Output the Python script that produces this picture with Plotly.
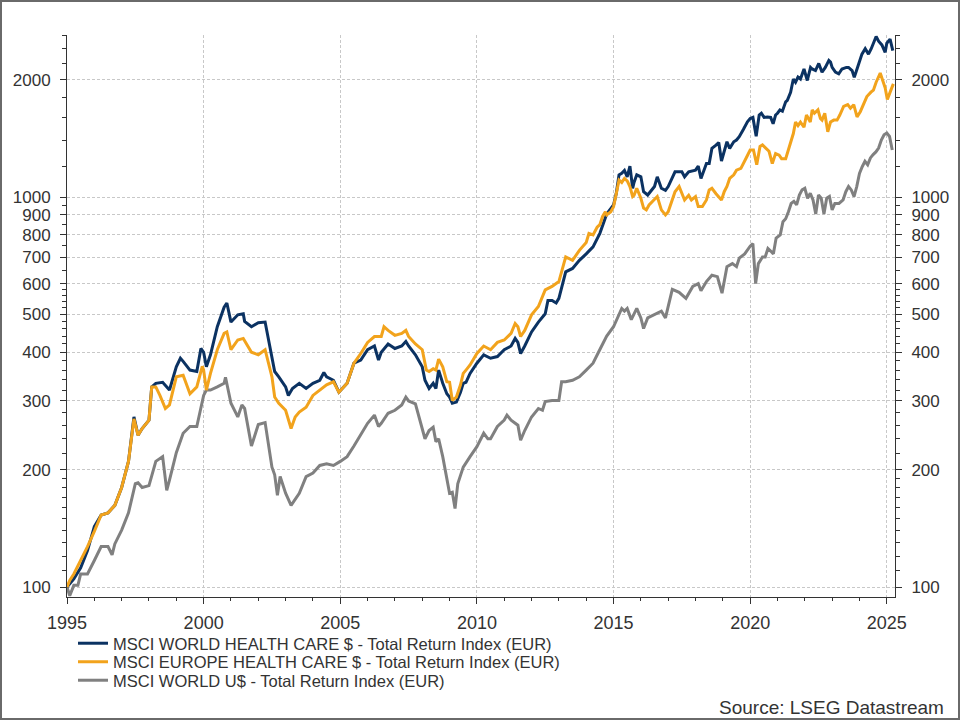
import plotly.graph_objects as go
import math

# ---- data (decimal years, index values) ----
world_hc_t = [1995.0,1995.1,1995.25,1995.5,1995.75,1996.0,1996.25,1996.5,1996.75,1997.0,1997.25,1997.45,1997.6,1997.75,1998.0,1998.1,1998.25,1998.5,1998.75,1999.0,1999.15,1999.25,1999.5,1999.75,1999.9,2000.0,2000.1,2000.25,2000.5,2000.75,2000.85,2001.0,2001.25,2001.45,2001.5,2001.75,2002.0,2002.25,2002.5,2002.6,2002.75,2003.0,2003.1,2003.25,2003.5,2003.75,2004.0,2004.25,2004.4,2004.5,2004.75,2004.95,2005.25,2005.5,2005.75,2006.0,2006.25,2006.4,2006.5,2006.75,2007.0,2007.25,2007.4,2007.5,2007.75,2008.0,2008.1,2008.25,2008.4,2008.5,2008.6,2008.75,2008.9,2009.0,2009.1,2009.25,2009.4,2009.5,2009.6,2009.75,2010.0,2010.25,2010.5,2010.75,2011.0,2011.25,2011.4,2011.5,2011.6,2011.75,2012.0,2012.25,2012.5,2012.6,2012.75,2012.9,2013.0,2013.1,2013.25,2013.5,2013.75,2014.0,2014.25,2014.5,2014.75,2015.0,2015.1,2015.2,2015.3,2015.4,2015.5,2015.6,2015.7,2015.75,2015.85,2016.0,2016.1,2016.25,2016.5,2016.6,2016.75,2016.9,2017.0,2017.25,2017.5,2017.6,2017.75,2018.0,2018.1,2018.2,2018.4,2018.5,2018.6,2018.75,2018.85,2018.95,2019.05,2019.15,2019.25,2019.4,2019.5,2019.6,2019.75,2019.9,2020.0,2020.1,2020.22,2020.33,2020.41,2020.51,2020.63,2020.75,2020.84,2020.93,2021.0,2021.09,2021.18,2021.3,2021.36,2021.48,2021.58,2021.66,2021.75,2021.84,2021.97,2022.09,2022.21,2022.27,2022.39,2022.51,2022.63,2022.75,2022.88,2022.94,2023.0,2023.12,2023.24,2023.36,2023.52,2023.6,2023.73,2023.81,2023.91,2024.0,2024.09,2024.21,2024.33,2024.43,2024.51,2024.61,2024.7,2024.82,2024.94,2025.0,2025.12,2025.22]
world_hc_v = [100,102,105,112,124,143,153,155,162,180,210,273,245,255,268,326,333,335,320,367,386,379,360,357,409,400,367,394,465,522,535,478,499,502,480,465,476,478,389,357,346,326,310,323,333,323,333,339,355,346,339,316,333,375,382,406,415,382,400,420,409,415,426,415,394,367,339,323,333,323,360,333,313,307,296,298,316,333,335,353,375,394,386,390,406,415,434,424,397,415,451,478,502,543,543,535,550,590,643,656,688,715,745,807,905,954,1022,1140,1150,1170,1127,1200,1053,1090,1140,1127,1032,1012,1064,1127,1053,1040,1064,1161,1161,1127,1161,1172,1200,1116,1219,1219,1333,1359,1380,1237,1300,1386,1333,1386,1400,1428,1490,1560,1590,1600,1432,1623,1640,1600,1605,1600,1541,1623,1640,1673,1660,1754,1770,1857,2007,1970,2030,2007,2130,1990,2150,2130,2110,2200,2090,2150,2240,2220,2150,2090,2070,2130,2150,2150,2110,2027,2130,2240,2325,2400,2325,2400,2480,2580,2510,2455,2350,2480,2540,2375]

europe_hc_t = [1995.0,1995.1,1995.25,1995.5,1995.75,1996.0,1996.25,1996.5,1996.75,1997.0,1997.25,1997.45,1997.6,1997.75,1998.0,1998.1,1998.25,1998.4,1998.6,1998.75,1999.0,1999.25,1999.5,1999.75,1999.95,2000.0,2000.1,2000.25,2000.5,2000.75,2000.85,2001.0,2001.25,2001.45,2001.75,2002.0,2002.25,2002.5,2002.6,2002.75,2003.0,2003.2,2003.35,2003.5,2003.75,2004.0,2004.25,2004.5,2004.75,2004.95,2005.25,2005.5,2005.75,2006.0,2006.25,2006.5,2006.6,2006.75,2007.0,2007.25,2007.4,2007.5,2007.75,2008.0,2008.15,2008.25,2008.4,2008.5,2008.6,2008.75,2008.9,2009.0,2009.1,2009.25,2009.4,2009.5,2009.6,2009.75,2010.0,2010.25,2010.5,2010.75,2011.0,2011.25,2011.4,2011.5,2011.6,2011.75,2012.0,2012.25,2012.5,2012.75,2013.0,2013.1,2013.25,2013.5,2013.75,2014.0,2014.1,2014.25,2014.4,2014.5,2014.6,2014.7,2014.75,2014.9,2015.0,2015.1,2015.2,2015.3,2015.4,2015.5,2015.6,2015.7,2015.75,2015.85,2016.0,2016.1,2016.2,2016.3,2016.5,2016.6,2016.75,2016.9,2017.0,2017.25,2017.4,2017.5,2017.6,2017.75,2017.85,2018.0,2018.1,2018.25,2018.4,2018.5,2018.6,2018.75,2018.85,2018.95,2019.05,2019.15,2019.25,2019.4,2019.5,2019.66,2019.84,2020.0,2020.12,2020.24,2020.36,2020.45,2020.57,2020.69,2020.81,2020.93,2021.06,2021.15,2021.3,2021.48,2021.58,2021.66,2021.75,2021.84,2021.97,2022.06,2022.2,2022.27,2022.35,2022.48,2022.57,2022.63,2022.73,2022.84,2022.94,2023.06,2023.18,2023.28,2023.42,2023.57,2023.67,2023.79,2023.91,2024.03,2024.15,2024.27,2024.42,2024.51,2024.61,2024.76,2024.94,2025.02,2025.15,2025.24]
europe_hc_v = [100,104,108,117,127,139,153,155,162,180,210,270,245,255,268,326,326,310,287,293,346,349,313,326,368,360,320,353,406,447,451,406,430,434,400,394,406,346,307,296,284,255,273,281,289,310,320,330,336,316,333,375,397,424,439,439,465,455,442,447,455,439,420,406,360,357,363,360,384,367,336,335,301,307,330,353,360,371,397,415,406,424,430,447,474,465,439,455,499,524,578,590,607,643,702,688,730,765,807,800,837,850,892,917,900,917,945,1020,1105,1090,1116,1100,1064,1003,1010,1053,993,937,927,954,983,1003,927,900,917,1032,1064,1020,983,1010,983,1003,945,945,983,1043,1053,1020,1003,983,1032,1064,1116,1140,1172,1184,1254,1320,1320,1210,1348,1360,1335,1310,1219,1293,1280,1254,1254,1375,1455,1557,1525,1557,1510,1623,1557,1673,1640,1673,1590,1575,1640,1470,1557,1575,1575,1623,1707,1725,1690,1725,1605,1655,1725,1810,1857,1880,1970,2080,1906,1778,1880,1950,1840]

world_t = [1995.0,1995.1,1995.25,1995.4,1995.5,1995.75,1996.0,1996.25,1996.5,1996.65,1996.75,1997.0,1997.25,1997.5,1997.6,1997.75,1998.0,1998.25,1998.5,1998.65,1998.75,1999.0,1999.25,1999.5,1999.75,2000.0,2000.1,2000.25,2000.5,2000.75,2000.8,2001.0,2001.25,2001.4,2001.5,2001.75,2002.0,2002.25,2002.5,2002.6,2002.7,2002.8,2003.0,2003.2,2003.5,2003.75,2004.0,2004.25,2004.5,2004.75,2005.0,2005.25,2005.5,2005.75,2006.0,2006.25,2006.4,2006.5,2006.75,2007.0,2007.25,2007.4,2007.5,2007.75,2008.0,2008.1,2008.25,2008.4,2008.5,2008.6,2008.75,2008.85,2009.0,2009.1,2009.2,2009.3,2009.5,2009.75,2010.0,2010.25,2010.4,2010.5,2010.75,2011.0,2011.1,2011.25,2011.5,2011.6,2011.75,2012.0,2012.25,2012.4,2012.5,2012.75,2013.0,2013.1,2013.25,2013.5,2013.75,2014.0,2014.25,2014.45,2014.75,2015.0,2015.15,2015.3,2015.4,2015.5,2015.65,2015.85,2016.0,2016.1,2016.25,2016.5,2016.75,2016.9,2017.15,2017.4,2017.65,2017.9,2018.1,2018.2,2018.4,2018.6,2018.8,2018.97,2019.15,2019.35,2019.5,2019.6,2019.8,2020.0,2020.1,2020.15,2020.2,2020.3,2020.45,2020.55,2020.65,2020.75,2020.85,2020.95,2021.1,2021.2,2021.3,2021.4,2021.5,2021.6,2021.7,2021.8,2021.9,2022.0,2022.1,2022.2,2022.3,2022.4,2022.5,2022.6,2022.7,2022.8,2022.9,2023.0,2023.1,2023.25,2023.4,2023.5,2023.6,2023.7,2023.8,2023.9,2024.0,2024.1,2024.2,2024.3,2024.4,2024.5,2024.6,2024.7,2024.8,2024.9,2025.0,2025.1,2025.2]
world_v = [100,95,101,101,108,108,117,127,127,121,129,140,155,184,185,180,182,210,216,177,188,221,248,258,258,310,320,320,326,333,345,296,273,293,287,230,261,264,203,194,172,192,174,162,174,192,196,205,207,205,210,216,230,245,263,276,258,263,279,284,293,307,300,295,252,240,252,257,236,240,216,196,174,175,159,184,203,216,229,248,240,240,258,268,276,268,260,238,252,273,287,284,299,301,301,336,336,339,346,360,375,400,440,465,493,518,510,518,485,518,490,460,490,500,510,490,580,570,550,590,600,575,607,630,625,567,663,675,663,697,715,748,760,675,600,675,702,702,738,727,715,785,800,864,880,917,963,975,955,1012,1043,1053,993,1022,983,905,1012,993,905,993,1003,927,963,963,983,1032,1064,1043,1003,1064,1150,1196,1235,1210,1260,1285,1305,1335,1400,1444,1460,1430,1320]

series_names = ["MSCI WORLD HEALTH CARE $ - Total Return Index (EUR)",
                "MSCI EUROPE HEALTH CARE $ - Total Return Index (EUR)",
                "MSCI WORLD U$ - Total Return Index (EUR)"]
series_colors = ["#0b3262", "#f2a31c", "#808080"]

x_major = [1995, 2000, 2005, 2010, 2015, 2020, 2025]
x_minor = list(range(1995, 2026))
y_major = [100, 200, 300, 400, 500, 600, 700, 800, 900, 1000, 2000]
y_minor = (list(range(110, 200, 10)) + list(range(220, 600, 20)) + [650, 750, 850, 950]
           + [1200, 1400, 1600, 1800, 2200, 2400, 2600])

# ---- layout geometry ----
W, H = 960, 720
ML, MR, MT, MB = 67, 65, 35, 123
PW, PH = W - ML - MR, H - MT - MB
def px(x):
    return (x - ML) / PW
def py(y):
    return (H - MB - y) / PH

x_range = [1995, 2025.3]
y_range = [math.log10(94.3), math.log10(2603)]
font_fam = "Arial, Liberation Sans, sans-serif"
legend_rows = [643.5, 662, 680.5]
legend_ids = ["legend", "legend2", "legend3"]

fig = go.Figure()
order = [(world_t, world_v, 2), (world_hc_t, world_hc_v, 0), (europe_hc_t, europe_hc_v, 1)]
for t, v, i in order:
    fig.add_trace(go.Scatter(x=t, y=v, mode="lines", name=series_names[i],
                             line=dict(color=series_colors[i], width=3),
                             legend=legend_ids[i], hoverinfo="skip"))

grid = dict(showgrid=True, gridcolor="#c8c8c8", gridwidth=1, griddash="3px,2px")
yax = dict(type="log", range=y_range, tickvals=y_major, ticktext=[str(v) for v in y_major],
           ticks="outside", ticklen=6, tickcolor="#333", showline=True, linecolor="#333",
           linewidth=1, zeroline=False, ticklabelstandoff=6,
           tickfont=dict(family=font_fam, size=17, color="#333"),
           minor=dict(tickmode="array", tickvals=y_minor, ticks="outside", ticklen=4,
                      tickcolor="#333", showgrid=False))

legend_cfg = {}
for k, lid in enumerate(legend_ids):
    legend_cfg[lid] = dict(x=px(73), y=py(legend_rows[k]), xanchor="left", yanchor="middle",
                           font=dict(family=font_fam, size=16.5, color="#333"),
                           bgcolor="rgba(0,0,0,0)", borderwidth=0, itemwidth=30)

fig.update_layout(
    width=W, height=H,
    margin=dict(l=ML, r=MR, t=MT, b=MB, autoexpand=False),
    paper_bgcolor="white", plot_bgcolor="white",
    xaxis=dict(range=x_range, tickvals=x_major, ticktext=[str(v) for v in x_major],
               ticks="outside", ticklen=6, tickcolor="#333", showline=True,
               linecolor="#333", linewidth=1, zeroline=False, ticklabelstandoff=3,
               tickfont=dict(family=font_fam, size=18, color="#333"),
               minor=dict(tickmode="array", tickvals=x_minor, ticks="outside", ticklen=3,
                          tickcolor="#333", showgrid=False),
               **grid),
    yaxis=dict(**yax, **grid),
    yaxis2=dict(**yax, overlaying="y", side="right", anchor="x", showgrid=False),
    showlegend=True,
    annotations=[dict(text="Source: LSEG Datastream", xref="paper", yref="paper",
                      x=px(946), y=py(707), xanchor="right", yanchor="middle",
                      showarrow=False, font=dict(family=font_fam, size=19, color="#333"))],
    shapes=[dict(type="rect", xref="paper", yref="paper",
                 x0=px(1), x1=px(959), y0=py(719), y1=py(1),
                 line=dict(color="#6a6a6a", width=2), layer="above")],
    **legend_cfg,
)
# invisible trace to bind the right axis
fig.add_trace(go.Scatter(x=[1995], y=[100], yaxis="y2", mode="markers",
                         marker=dict(opacity=0), showlegend=False, hoverinfo="skip"))

fig.write_html("out.html")
